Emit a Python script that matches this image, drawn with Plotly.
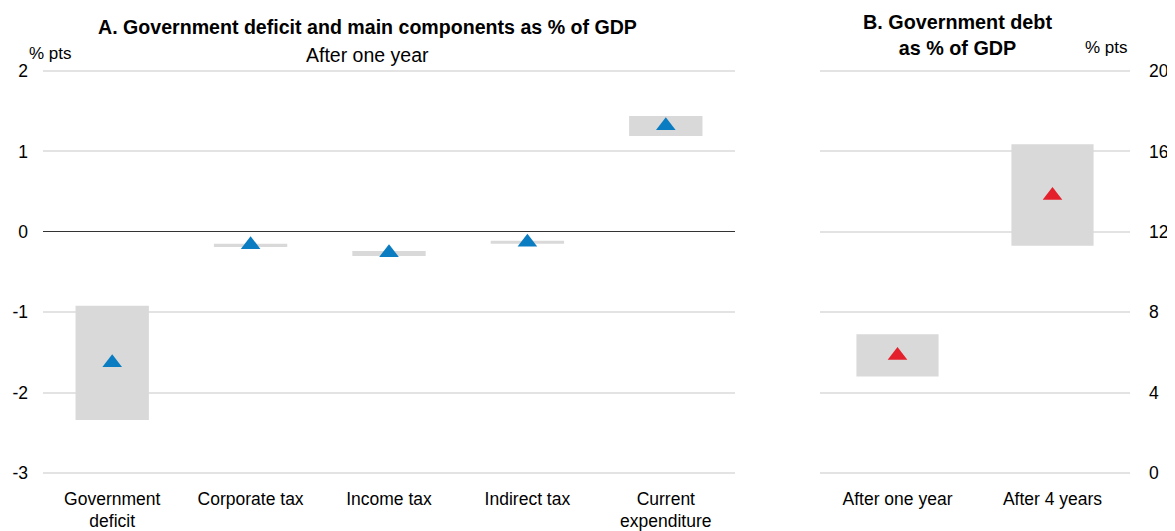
import plotly.graph_objects as go

# Panel A data
cats_a = ["Government<br>deficit", "Corporate tax", "Income tax", "Indirect tax", "Current<br>expenditure"]
mid_a = [-1.63, -0.16, -0.26, -0.13, 1.32]
low_a = [-2.34, -0.19, -0.30, -0.15, 1.19]
high_a = [-0.92, -0.15, -0.24, -0.11, 1.44]
ticks_a = [-3, -2, -1, 0, 1, 2]
ticklabels_a = ["-3", "-2", "-1", "0", "1", "2"]

# Panel B data
cats_b = ["After one year", "After 4 years"]
mid_b = [5.85, 13.8]
low_b = [4.8, 11.3]
high_b = [6.9, 16.35]
ticks_b = [0, 4, 8, 12, 16, 20]

FONT = "Liberation Sans, Arial, sans-serif"
BOX = "#d9d9d9"
GRID = "#e3e3e3"
FS = 17.5

fig = go.Figure()

fig.add_trace(go.Bar(x=cats_a, y=[h - l for h, l in zip(high_a, low_a)], base=low_a,
                     width=0.53, marker=dict(color=BOX, line=dict(width=0)),
                     xaxis="x", yaxis="y", showlegend=False, hoverinfo="skip"))
fig.add_trace(go.Scatter(x=cats_a, y=mid_a, mode="markers",
                         marker=dict(symbol="triangle-up", size=17, color="#0a7cc1"),
                         xaxis="x", yaxis="y", showlegend=False))

fig.add_trace(go.Bar(x=cats_b, y=[h - l for h, l in zip(high_b, low_b)], base=low_b,
                     width=0.53, marker=dict(color=BOX, line=dict(width=0)),
                     xaxis="x2", yaxis="y2", showlegend=False, hoverinfo="skip"))
fig.add_trace(go.Scatter(x=cats_b, y=mid_b, mode="markers",
                         marker=dict(symbol="triangle-up", size=17, color="#e3202b"),
                         xaxis="x2", yaxis="y2", showlegend=False))

# page body has an 8px margin: figure occupies window pixels 8..1175 / 8..531
OFF = 8
W, H = 1175 - OFF, 531 - OFF


def px(xw):
    return (xw - OFF) / W


def py(yw):
    return (H - (yw - OFF)) / H


# small padding so the end gridlines are drawn
PADPX = 2.0
ppu_a = (473 - 71) / 5.0
ppu_b = (473 - 71) / 20.0
yd = [py(473 + PADPX), py(71 - PADPX)]
ra = [-3 - PADPX / ppu_a, 2 + PADPX / ppu_a]
rb = [0 - PADPX / ppu_b, 20 + PADPX / ppu_b]

fig.update_layout(
    template="none",
    width=W, height=H,
    margin=dict(l=0, r=0, t=0, b=0, autoexpand=False),
    paper_bgcolor="white", plot_bgcolor="white",
    font=dict(family=FONT, size=FS, color="#000"),
    bargap=0.47,
    xaxis=dict(domain=[px(43), px(735)], anchor="y", showgrid=False, showline=False,
               zeroline=False, ticks="", automargin=False, ticklabelstandoff=11,
               tickfont=dict(size=FS), fixedrange=True),
    yaxis=dict(domain=yd, anchor="x", range=ra, tickvals=ticks_a, ticktext=ticklabels_a,
               showgrid=True, gridcolor=GRID, gridwidth=2, zeroline=True,
               zerolinecolor="#333", zerolinewidth=1, showline=False, ticks="",
               automargin=False, ticklabelstandoff=14, tickfont=dict(size=FS)),
    xaxis2=dict(domain=[px(820), px(1130)], anchor="y2", showgrid=False, showline=False,
                zeroline=False, ticks="", automargin=False, ticklabelstandoff=11,
                tickfont=dict(size=FS)),
    yaxis2=dict(domain=yd, anchor="x2", side="right", range=rb, tickvals=ticks_b,
                showgrid=True, gridcolor=GRID, gridwidth=2, zeroline=False,
                showline=False, ticks="", automargin=False, ticklabelstandoff=18,
                tickfont=dict(size=FS)),
    annotations=[
        dict(text="<b>A. Government deficit and main components as % of GDP</b>",
             x=px(367), y=py(27), xref="paper", yref="paper", showarrow=False,
             font=dict(size=19.6), xanchor="center", yanchor="middle"),
        dict(text="After one year", x=px(367), y=py(55), xref="paper", yref="paper",
             showarrow=False, font=dict(size=19.5), xanchor="center", yanchor="middle"),
        dict(text="% pts", x=px(27), y=py(53), xref="paper", yref="paper",
             showarrow=False, font=dict(size=17), xanchor="left", yanchor="middle"),
        dict(text="<b>B. Government debt<br>as % of GDP</b>", x=px(957), y=py(35),
             xref="paper", yref="paper", showarrow=False, font=dict(size=19.8),
             xanchor="center", yanchor="middle"),
        dict(text="% pts", x=px(1130), y=py(48), xref="paper", yref="paper",
             showarrow=False, font=dict(size=17), xanchor="right", yanchor="middle"),
    ],
)

fig.write_html("out.html")
